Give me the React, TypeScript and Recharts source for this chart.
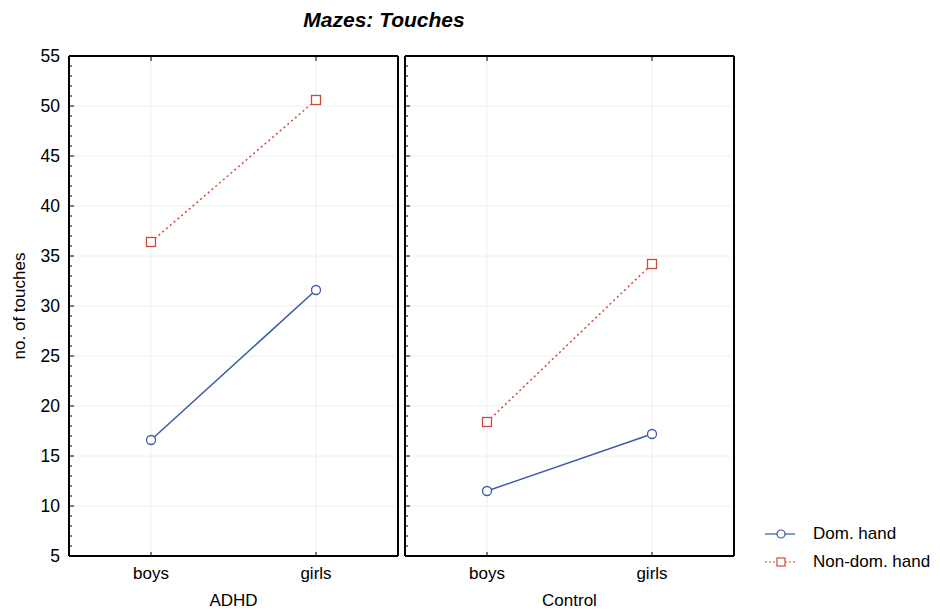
import { LineChart, Line, XAxis, YAxis, ReferenceLine, Legend } from 'recharts'

const CATEGORIES = ['boys', 'girls']
const GROUPS = ['ADHD', 'Control']
const SERIES_NAMES = ['Dom. hand', 'Non-dom. hand']

const ADHD_DOM = [16.6, 31.6]
const ADHD_NON_DOM = [36.4, 50.6]
const CONTROL_DOM = [11.5, 17.2]
const CONTROL_NON_DOM = [18.4, 34.2]

const MAJOR_TICKS = [5, 10, 15, 20, 25, 30, 35, 40, 45, 50, 55]
const ALL_TICKS = Array.from({ length: 51 }, (_, i) => 5 + i)

const DOM_COLOR = '#3a5ba6'
const NON_DOM_COLOR = '#d04a3c'
const INK = '#000'
const FONT = "'Liberation Sans', Arial, sans-serif"
const FS = 17

const LeftTick = ({ x, y, payload, showLabel }: any) => {
  const major = payload.value % 5 === 0
  return (
    <g>
      <line x1={x} x2={x + (major ? 5 : 3)} y1={y} y2={y} stroke={INK} strokeWidth={1} />
      {showLabel && major && (
        <text x={x - 9} y={y} dy={6} textAnchor='end' fontSize={FS + 0.5} fill={INK}>
          {payload.value}
        </text>
      )}
    </g>
  )
}

const RightTick = ({ x, y, payload }: any) => {
  const major = payload.value % 5 === 0
  return <line x1={x} x2={x - (major ? 5 : 3)} y1={y} y2={y} stroke={INK} strokeWidth={1} />
}

const BottomTick = ({ x, y, payload }: any) => (
  <g>
    <line x1={x} x2={x} y1={y} y2={y - 4} stroke={INK} />
    <text x={x} y={y + 23} textAnchor='middle' fontSize={FS} fill={INK}>
      {payload.value}
    </text>
  </g>
)

const TopTick = ({ x, y }: any) => <line x1={x} x2={x} y1={y} y2={y + 5} stroke={INK} />

const CircleDot = (p: any) => (
  <circle key={`c-${p.index}`} cx={p.cx} cy={p.cy} r={4.5} fill='#fff' stroke={DOM_COLOR} strokeWidth={1.3} />
)

const SquareDot = (p: any) => (
  <rect
    key={`s-${p.index}`}
    x={p.cx - 4.5}
    y={p.cy - 4.5}
    width={9}
    height={9}
    fill='#fff'
    stroke={NON_DOM_COLOR}
    strokeWidth={1.3}
  />
)

const LegendContent = ({ payload }: any) => (
  <div style={{ fontFamily: FONT, fontSize: FS, color: INK }}>
    {(payload || []).map((entry: any, i: number) => (
      <div key={entry.value} style={{ display: 'flex', alignItems: 'center', height: 28 }}>
        <svg width={30} height={12}>
          <line
            x1={0}
            x2={30}
            y1={6}
            y2={6}
            stroke={i === 0 ? DOM_COLOR : NON_DOM_COLOR}
            strokeWidth={1.2}
            strokeDasharray={i === 0 ? undefined : '2 2'}
          />
          {i === 0 ? (
            <circle cx={16} cy={6} r={4} fill='#fff' stroke={DOM_COLOR} strokeWidth={1.2} />
          ) : (
            <rect x={12} y={2} width={8} height={8} fill='#fff' stroke={NON_DOM_COLOR} strokeWidth={1.2} />
          )}
        </svg>
        <span style={{ marginLeft: 18 }}>{entry.value}</span>
      </div>
    ))}
  </div>
)

type PanelProps = {
  group: string
  dom: number[]
  nonDom: number[]
  left: number
  width: number
  yWidth: number
  marginRight: number
  first?: boolean
  legend?: boolean
}

const Panel = ({ group, dom, nonDom, left, width, yWidth, marginRight, first, legend }: PanelProps) => {
  const data = CATEGORIES.map((c, i) => ({ cat: c, dom: dom[i], nonDom: nonDom[i] }))
  const pad = { left: 82, right: 82 }
  const frame = { stroke: INK, strokeWidth: 2 }

  return (
    <div style={{ position: 'absolute', left, top: 0 }}>
      <LineChart width={width} height={611} data={data} margin={{ top: 55, right: marginRight, bottom: 0, left: 0 }}>
        {MAJOR_TICKS.slice(1, -1).map((v) => (
          <ReferenceLine key={`h${v}`} yAxisId='l' y={v} stroke='#f0f0f0' />
        ))}
        {CATEGORIES.map((c) => (
          <ReferenceLine key={`v${c}`} yAxisId='l' x={c} stroke='#f0f0f0' />
        ))}
        <XAxis
          dataKey='cat'
          height={55}
          padding={pad}
          axisLine={frame}
          tickLine={false}
          tickSize={0}
          tickMargin={0}
          tick={<BottomTick />}
          label={{ value: group, position: 'insideBottom', offset: 5, fontSize: FS, fill: INK }}
        />
        <XAxis
          xAxisId='top'
          dataKey='cat'
          orientation='top'
          height={1}
          padding={pad}
          axisLine={frame}
          tickLine={false}
          tickSize={0}
          tickMargin={0}
          tick={<TopTick />}
        />
        <YAxis
          yAxisId='l'
          type='number'
          domain={[5, 55]}
          ticks={ALL_TICKS}
          interval={0}
          width={yWidth}
          axisLine={frame}
          tickLine={false}
          tickSize={0}
          tickMargin={0}
          tick={<LeftTick showLabel={first} />}
          label={
            first
              ? {
                  value: 'no. of touches',
                  angle: -90,
                  position: 'insideLeft',
                  offset: 19,
                  fontSize: FS,
                  fill: INK,
                  style: { textAnchor: 'middle' },
                }
              : undefined
          }
        />
        <YAxis
          yAxisId='r'
          orientation='right'
          type='number'
          domain={[5, 55]}
          ticks={ALL_TICKS}
          interval={0}
          width={1}
          axisLine={frame}
          tickLine={false}
          tickSize={0}
          tickMargin={0}
          tick={<RightTick />}
        />
        <Line
          yAxisId='l'
          dataKey='dom'
          name={SERIES_NAMES[0]}
          stroke={DOM_COLOR}
          strokeWidth={1.5}
          dot={CircleDot}
          activeDot={false}
          isAnimationActive={false}
        />
        <Line
          yAxisId='l'
          dataKey='nonDom'
          name={SERIES_NAMES[1]}
          stroke={NON_DOM_COLOR}
          strokeWidth={1.5}
          strokeDasharray='2 3'
          dot={SquareDot}
          activeDot={false}
          isAnimationActive={false}
        />
        {legend && (
          <Legend
            layout='horizontal'
            verticalAlign='middle'
            align='center'
            content={<LegendContent />}
            wrapperStyle={{ left: 365, top: 520, width: 180 }}
          />
        )}
      </LineChart>
    </div>
  )
}

export default function App() {
  return (
    <div
      style={{
        position: 'absolute',
        left: 0,
        top: 0,
        width: 940,
        height: 611,
        background: '#fff',
        fontFamily: FONT,
        color: INK,
      }}
    >
      <div
        style={{
          position: 'absolute',
          left: 0,
          top: 9,
          width: 768,
          textAlign: 'center',
          fontSize: 21,
          lineHeight: '22px',
          fontWeight: 'bold',
          fontStyle: 'italic',
        }}
      >
        Mazes: Touches
      </div>
      <Panel group={GROUPS[0]} dom={ADHD_DOM} nonDom={ADHD_NON_DOM} left={0} width={400} yWidth={69} marginRight={1} first />
      <Panel
        group={GROUPS[1]}
        dom={CONTROL_DOM}
        nonDom={CONTROL_NON_DOM}
        left={400}
        width={540}
        yWidth={5}
        marginRight={205}
        legend
      />
    </div>
  )
}
